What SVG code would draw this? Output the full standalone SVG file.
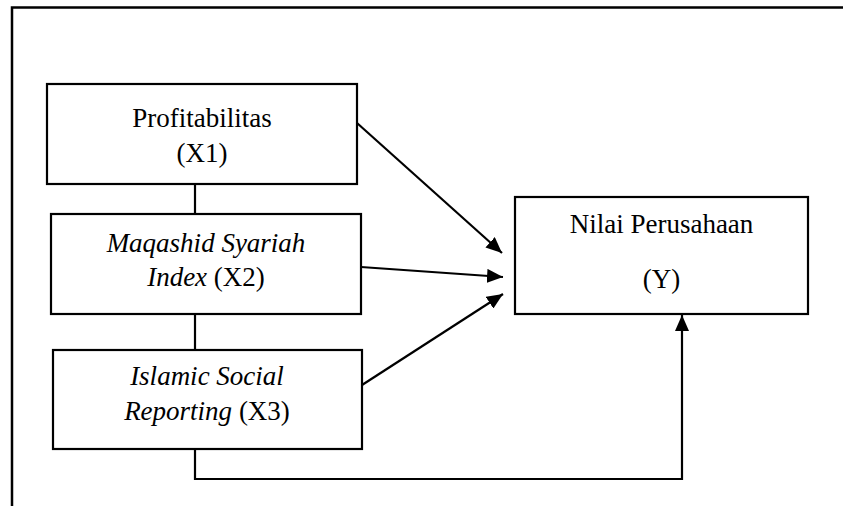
<svg xmlns="http://www.w3.org/2000/svg" width="843" height="506" viewBox="0 0 843 506">
<style>
.box{fill:#fff;stroke:#000;stroke-width:2.2}
text{font-size:27px;fill:#000;text-anchor:middle}
.i{font-style:italic}
.c{fill:none;stroke:#000;stroke-width:2.2}
</style>
<defs>
<marker id="ah" viewBox="0 0 16 14" refX="16" refY="7" markerWidth="16" markerHeight="14" markerUnits="userSpaceOnUse" orient="auto">
<path d="M0,0 L16,7 L0,14 z" fill="#000"/>
</marker>
</defs>
<path d="M12,506 V7.5 H843" fill="none" stroke="#000" stroke-width="2.5"/>
<g id="connectors">
<line class="c" x1="195" y1="184" x2="195" y2="214"/>
<line class="c" x1="195" y1="314" x2="195" y2="350"/>
<line class="c" x1="357" y1="123" x2="502" y2="253" marker-end="url(#ah)"/>
<line class="c" x1="361" y1="267" x2="503" y2="277" marker-end="url(#ah)"/>
<line class="c" x1="362" y1="385" x2="503" y2="294" marker-end="url(#ah)"/>
<polyline class="c" points="195,449 195,479 682,479 682,315" marker-end="url(#ah)"/>
</g>
<g font-family="'Liberation Serif', 'Times New Roman', serif">
<g id="x1">
<rect class="box" x="47" y="84" width="310" height="100"/>
<text x="202" y="127">Profitabilitas</text>
<text x="202" y="162">(X1)</text>
</g>
<g id="x2">
<rect class="box" x="51" y="214" width="310" height="100"/>
<text x="206" y="252"><tspan class="i">Maqashid Syariah</tspan></text>
<text x="206" y="286"><tspan class="i">Index</tspan> (X2)</text>
</g>
<g id="x3">
<rect class="box" x="53" y="350" width="309" height="99"/>
<text x="207" y="385"><tspan class="i">Islamic Social</tspan></text>
<text x="207" y="420"><tspan class="i">Reporting</tspan> (X3)</text>
</g>
<g id="y">
<rect class="box" x="515" y="197" width="293" height="117"/>
<text x="661.5" y="233">Nilai Perusahaan</text>
<text x="661.5" y="288">(Y)</text>
</g>
</g>
</svg>
